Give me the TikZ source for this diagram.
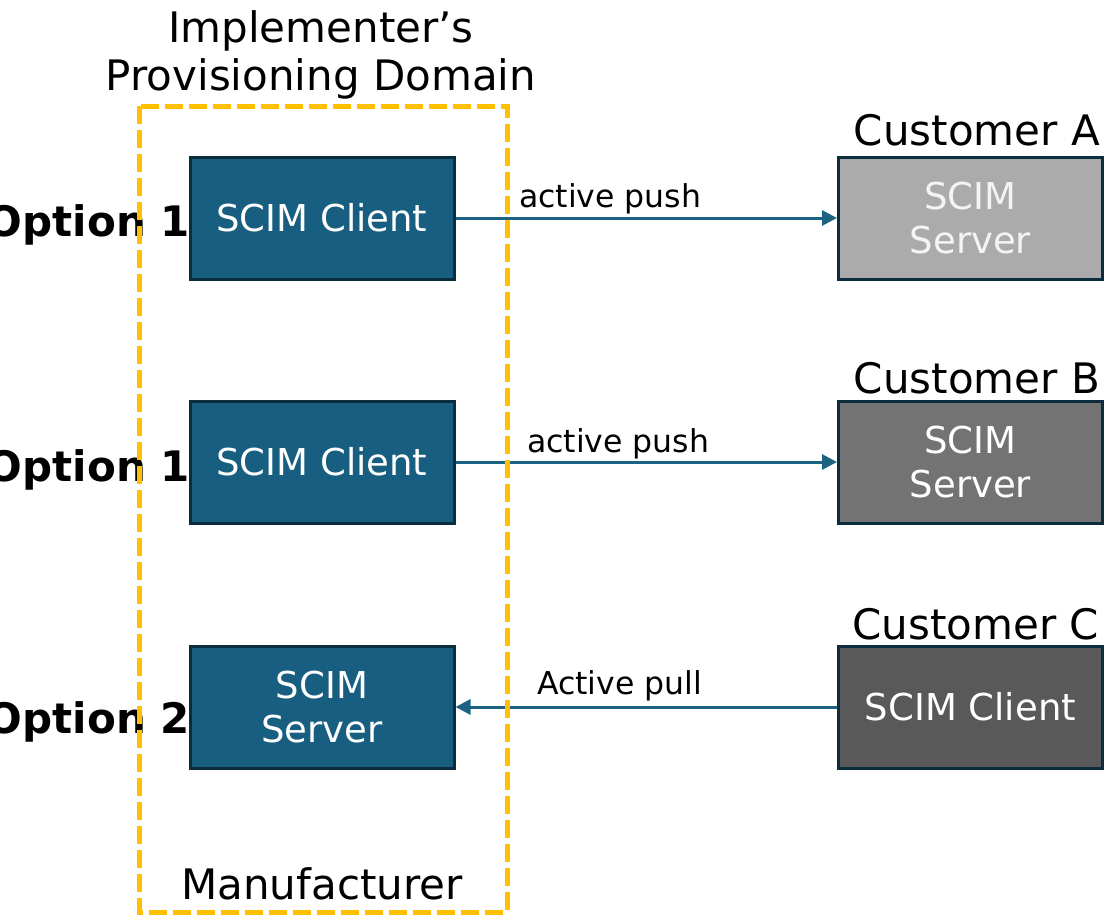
\documentclass[tikz,border=0pt]{standalone}
\usepackage{fontspec}
\setmainfont{DejaVu Sans}
\usetikzlibrary{arrows.meta}
\definecolor{clientblue}{HTML}{175E80}
\definecolor{boxedge}{HTML}{0B2D3D}
\definecolor{linkblue}{HTML}{1B6283}
\definecolor{domainyellow}{HTML}{FFC000}
\definecolor{custA}{HTML}{ABABAB}
\definecolor{custB}{HTML}{737373}
\definecolor{custC}{HTML}{595959}
\definecolor{custAtext}{HTML}{F4F4F4}
\tikzset{
  sysbox/.style={draw=boxedge, line width=3pt, minimum width=264pt, minimum height=122pt,
    inner sep=0pt, align=center, text=white,
    font=\fontsize{37}{44}\selectfont},
  implbox/.style={sysbox, fill=clientblue},
  heading/.style={anchor=base, font=\fontsize{42}{48}\selectfont, inner sep=0pt},
  optlabel/.style={anchor=base east, font=\bfseries\fontsize{42}{48}\selectfont, inner sep=0pt},
  linklabel/.style={anchor=base west, font=\fontsize{31.5}{36}\selectfont, inner sep=0pt},
  link/.style={draw=linkblue, line width=3pt, -{Triangle[length=15pt,width=15pt]}},
  domainframe/.style={draw=domainyellow, line width=5pt, dash pattern=on 18pt off 6pt}
}
\begin{document}
\begin{tikzpicture}[x=1pt,y=-1pt]
\useasboundingbox (0,0) rectangle (1109,916);

% implementer side
\node[implbox] (c1) at (322,218) {SCIM Client};
\node[implbox] (c2) at (322,462) {SCIM Client};
\node[implbox] (s3) at (322,707) {SCIM\\Server};

% customer side
\node[sysbox, fill=custA, text=custAtext] (sa) at (970.5,218) {SCIM\\Server};
\node[sysbox, fill=custB] (sb) at (970.5,462) {SCIM\\Server};
\node[sysbox, fill=custC] (cc) at (970.5,707) {SCIM Client};

% headings
\node[heading] (h1) at (321,42) {Implementer’s};
\node[heading] (h2) at (321,90) {Provisioning Domain};
\node[heading] (ha) at (977,145) {Customer A};
\node[heading] (hb) at (977,393) {Customer B};
\node[heading] (hc) at (976,639) {Customer C};
\node[heading] (mf) at (322,899) {Manufacturer};

% option labels
\node[optlabel] (o1) at (190,236) {Option 1};
\node[optlabel] (o2) at (190,481) {Option 1};
\node[optlabel] (o3) at (190,733) {Option 2};

% links
\draw[link] (c1.east) -- (sa.west);
\draw[link] (c2.east) -- (sb.west);
\draw[link] (cc.west) -- (s3.east);
\node[linklabel] (l1) at (519,207) {active push};
\node[linklabel] (l2) at (527,452) {active push};
\node[linklabel] (l3) at (537,694) {Active pull};

% provisioning domain boundary
\draw[domainframe] (139,106) rectangle (507,912);
\end{tikzpicture}
\end{document}
